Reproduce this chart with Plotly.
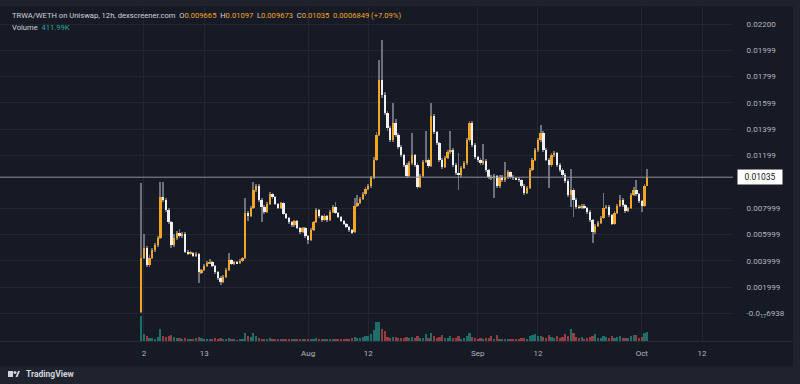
import plotly.graph_objects as go
import pandas as pd

# ---------------- data ----------------
start_time = "2024-07-01 12:00"
interval = "12h"

opens = [0.0001,0.00420,0.00497,0.00367,0.00420,0.00481,0.00519,0.00573,0.00884,0.00862,
0.00786,0.00694,0.00519,0.00573,0.00611,0.00588,0.00603,0.00466,0.00451,0.00459,
0.00436,0.00451,0.00314,0.00329,0.00360,0.00382,0.00390,0.00360,0.00314,0.00268,
0.00238,0.00276,0.00329,0.00405,0.00375,0.00390,0.00382,0.00398,0.00420,0.00763,
0.00740,0.00801,0.00938,0.00968,0.00862,0.00808,0.00770,0.00831,0.00907,0.00884,
0.00831,0.00801,0.00839,0.00755,0.00725,0.00694,0.00671,0.00702,0.00649,0.00618,
0.00649,0.00588,0.00557,0.00633,0.00694,0.00786,0.00740,0.00709,0.00740,0.00709,
0.00770,0.00808,0.00763,0.00732,0.00702,0.00679,0.00656,0.00633,0.00618,0.00816,
0.00839,0.00869,0.00907,0.00945,0.00968,0.01029,0.01166,0.01356,0.01774,0.01660,
0.01523,0.01409,0.01318,0.01447,0.01356,0.01265,0.01204,0.01128,0.01044,0.01143,
0.01204,0.01128,0.00960,0.01044,0.01151,0.01166,0.01120,0.01500,0.01379,0.01295,
0.01166,0.01113,0.01181,0.01227,0.01242,0.01128,0.01067,0.01052,0.01105,0.01143,
0.01318,0.01447,0.01280,0.01189,0.01166,0.01143,0.01158,0.01090,0.01036,0.01029,
0.01044,0.00968,0.01036,0.01014,0.01036,0.01074,0.01036,0.01029,0.01021,0.01014,
0.00968,0.00915,0.00953,0.01090,0.01166,0.01242,0.01318,0.01371,0.01242,0.01166,
0.01128,0.01204,0.01219,0.01128,0.01090,0.01052,0.01006,0.00900,0.00938,0.00862,
0.00808,0.00801,0.00816,0.00801,0.00770,0.00709,0.00618,0.00664,0.00687,0.00725,
0.00801,0.00808,0.00747,0.00679,0.00763,0.00816,0.00862,0.00824,0.00778,0.00801,
0.00900,0.00938,0.00907,0.00854,0.00816,0.009665]

closes = [0.00420,0.00497,0.00367,0.00420,0.00481,0.00519,0.00573,0.00884,0.00862,0.00786,
0.00694,0.00519,0.00573,0.00611,0.00588,0.00603,0.00466,0.00451,0.00459,0.00436,
0.00451,0.00314,0.00329,0.00360,0.00382,0.00390,0.00360,0.00314,0.00268,0.00238,
0.00276,0.00329,0.00405,0.00375,0.00390,0.00382,0.00398,0.00420,0.00763,0.00740,
0.00801,0.00938,0.00968,0.00862,0.00808,0.00770,0.00831,0.00907,0.00884,0.00831,
0.00801,0.00839,0.00755,0.00725,0.00694,0.00671,0.00702,0.00649,0.00618,0.00649,
0.00588,0.00557,0.00633,0.00694,0.00786,0.00740,0.00709,0.00740,0.00709,0.00770,
0.00808,0.00763,0.00732,0.00702,0.00679,0.00656,0.00633,0.00618,0.00816,0.00839,
0.00869,0.00907,0.00945,0.00968,0.01029,0.01166,0.01356,0.01774,0.01660,0.01523,
0.01409,0.01318,0.01447,0.01356,0.01265,0.01204,0.01128,0.01044,0.01143,0.01204,
0.01128,0.00960,0.01044,0.01151,0.01166,0.01120,0.01500,0.01379,0.01295,0.01166,
0.01113,0.01181,0.01227,0.01242,0.01128,0.01067,0.01052,0.01105,0.01143,0.01318,
0.01447,0.01280,0.01189,0.01166,0.01143,0.01158,0.01090,0.01036,0.01029,0.01044,
0.00968,0.01036,0.01014,0.01036,0.01074,0.01036,0.01029,0.01021,0.01014,0.00968,
0.00915,0.00953,0.01090,0.01166,0.01242,0.01318,0.01371,0.01242,0.01166,0.01128,
0.01204,0.01219,0.01128,0.01090,0.01052,0.01006,0.00900,0.00938,0.00862,0.00808,
0.00801,0.00816,0.00801,0.00770,0.00709,0.00618,0.00664,0.00687,0.00725,0.00801,
0.00808,0.00747,0.00679,0.00763,0.00816,0.00862,0.00824,0.00778,0.00801,0.00900,
0.00938,0.00907,0.00854,0.00816,0.009665,0.01035]

highs = [0.0099,0.0060,0.00510,0.00440,0.00495,0.00535,0.00590,0.0100,0.0100,0.00875,
0.00800,0.00705,0.00600,0.00625,0.00640,0.00620,0.00615,0.00480,0.00475,0.00470,
0.00465,0.00460,0.00340,0.00372,0.00395,0.00410,0.00400,0.00370,0.00325,0.00280,
0.00290,0.00345,0.00460,0.00415,0.00400,0.00400,0.00410,0.00432,0.00880,0.00780,
0.00815,0.0100,0.00985,0.00980,0.00875,0.00820,0.00845,0.00920,0.00915,0.00895,
0.00840,0.00850,0.00848,0.00765,0.00735,0.00705,0.00712,0.00710,0.00658,0.00660,
0.00658,0.00598,0.00645,0.00705,0.00800,0.00795,0.00750,0.00752,0.00750,0.00785,
0.00822,0.00850,0.00772,0.00742,0.00712,0.00688,0.00665,0.00642,0.00880,0.00900,
0.00885,0.00925,0.00960,0.00985,0.01045,0.01185,0.01380,0.01930,0.02080,0.01680,
0.01540,0.01425,0.01600,0.01480,0.01370,0.01280,0.01215,0.01140,0.01160,0.01370,
0.01215,0.01140,0.01060,0.01165,0.01390,0.01180,0.01600,0.01515,0.01390,0.01305,
0.01180,0.01195,0.01240,0.01390,0.01255,0.01140,0.01220,0.01120,0.01160,0.01335,
0.01460,0.01460,0.01295,0.01200,0.01180,0.01290,0.01170,0.01100,0.01050,0.01060,
0.01055,0.01050,0.01050,0.01150,0.01090,0.01085,0.01048,0.01040,0.01035,0.01025,
0.00980,0.00965,0.01105,0.01180,0.01260,0.01335,0.01430,0.01385,0.01255,0.01180,
0.01220,0.01235,0.01230,0.01140,0.01105,0.01065,0.01020,0.01100,0.00950,0.00875,
0.00820,0.00830,0.00828,0.00812,0.00782,0.00720,0.00676,0.00700,0.00738,0.00915,
0.00822,0.00820,0.00758,0.00775,0.00830,0.00900,0.00875,0.00835,0.00812,0.00915,
0.00960,0.01010,0.00918,0.00865,0.00985,0.01097]

lows = [0.0000,0.00410,0.00355,0.00350,0.00410,0.00470,0.00505,0.00565,0.00845,0.00770,
0.00680,0.00500,0.00505,0.00560,0.00575,0.00575,0.00455,0.00440,0.00440,0.00425,
0.00425,0.00230,0.00300,0.00320,0.00350,0.00375,0.00350,0.00300,0.00255,0.00215,
0.00228,0.00265,0.00320,0.00365,0.00365,0.00372,0.00372,0.00388,0.00410,0.00700,
0.00730,0.00790,0.00925,0.00850,0.00695,0.00755,0.00760,0.00820,0.00870,0.00820,
0.00790,0.00790,0.00745,0.00715,0.00680,0.00660,0.00660,0.00638,0.00605,0.00608,
0.00575,0.00527,0.00548,0.00625,0.00685,0.00728,0.00698,0.00700,0.00698,0.00700,
0.00760,0.00752,0.00722,0.00692,0.00668,0.00645,0.00622,0.00605,0.00610,0.00805,
0.00830,0.00860,0.00895,0.00935,0.00955,0.01020,0.01155,0.01345,0.01640,0.01505,
0.01390,0.01300,0.01305,0.01340,0.01250,0.01190,0.01115,0.01030,0.01035,0.01130,
0.01115,0.00945,0.00950,0.01035,0.01140,0.01105,0.01110,0.01365,0.01280,0.01150,
0.01100,0.01105,0.01170,0.01215,0.01115,0.01055,0.00940,0.01040,0.01095,0.01130,
0.01305,0.01265,0.01175,0.01150,0.01130,0.01130,0.01075,0.01020,0.01015,0.00880,
0.00955,0.00955,0.01000,0.01000,0.01025,0.01020,0.01015,0.01010,0.01000,0.00955,
0.00900,0.00905,0.00945,0.01080,0.01155,0.01230,0.01305,0.01230,0.01155,0.00950,
0.01115,0.01190,0.01115,0.01075,0.01040,0.00990,0.00885,0.00810,0.00730,0.00795,
0.00790,0.00790,0.00790,0.00758,0.00695,0.00535,0.00605,0.00655,0.00678,0.00715,
0.00790,0.00735,0.00668,0.00670,0.00752,0.00805,0.00812,0.00765,0.00768,0.00790,
0.00890,0.00895,0.00842,0.00770,0.00805,0.009673]

volumes_k = [1080,310,220,130,130,110,175,530,220,175,
220,265,175,130,130,110,130,110,90,110,
130,175,130,90,110,90,90,130,110,130,
90,110,130,90,90,65,90,90,350,220,
175,350,220,130,110,110,90,130,90,90,
90,80,100,90,80,70,90,80,100,70,
90,110,90,100,130,90,80,70,90,100,
90,110,90,80,100,90,110,130,175,130,
130,175,220,220,310,480,840,850,530,440,
175,130,175,175,130,150,130,175,130,175,
150,200,130,150,310,150,350,220,150,175,
265,130,150,220,130,150,220,110,130,220,
350,175,130,110,130,110,130,150,220,110,
265,110,90,110,90,110,90,80,90,130,
150,110,220,265,310,220,220,175,130,265,
175,130,220,150,175,310,200,530,350,175,
130,175,110,130,175,220,310,130,150,220,
175,130,220,150,175,200,130,150,130,220,
265,265,150,175,350,412]

price_tick_vals = [0.022, 0.020, 0.018, 0.016, 0.014, 0.012, 0.008, 0.006, 0.004, 0.002, 0.0]
price_tick_text = ["0.02200", "0.01999", "0.01799", "0.01599", "0.01399", "0.01199",
                   "0.007999", "0.005999", "0.003999", "0.001999", "-0.0<sub>17</sub>6938"]
time_tick_vals = ["2024-07-02", "2024-07-13", "2024-08-01", "2024-08-12",
                  "2024-09-01", "2024-09-12", "2024-10-01", "2024-10-12"]
time_tick_text = ["2", "13", "Aug", "12", "Sep", "12", "Oct", "12"]

header_pair = "TRWA/WETH on Uniswap, 12h, dexscreener.com"
ohlc_labels = ["O", "H", "L", "C"]
ohlc_values = ["0.009665", "0.01097", "0.009673", "0.01035"]
last_change = "0.0006849 (+7.09%)"
volume_label = "411.99K"

# ---------------- styling ----------------
W, H = 800, 384
ORANGE = "#f5a524"
WHITE = "#f0f0f0"
WICK = "#6e717d"
PANE = "#161a25"
OUTER = "#1f232e"
GRID = "#222631"
TXT = "#b2b5be"
FONT = "Roboto"

times = pd.date_range(start_time, periods=len(closes), freq=interval)
half_day_ms = 12 * 3600 * 1000

body_base = [min(o, c) for o, c in zip(opens, closes)]
body_h = [max(abs(c - o), 0.00006) for o, c in zip(opens, closes)]
body_col = [ORANGE if c >= o else WHITE for o, c in zip(opens, closes)]
wick_h = [h - l for h, l in zip(highs, lows)]
vol = [v * 1000 for v in volumes_k]
vol_col = ["rgba(38,166,154,0.6)" if c >= o else "rgba(239,83,80,0.6)" for o, c in zip(opens, closes)]

x_left = pd.Timestamp("2024-06-05 16:20")
x_right = pd.Timestamp("2024-10-17 16:00")


def px_x(p):
    return p / W


def px_y(p):
    return 1 - p / H


plot_right = 733
plot_top, plot_bot = 7, 341
y_lo, y_hi = -0.002106, 0.023293

fig = go.Figure()

fig.add_trace(go.Bar(x=times, y=vol, marker=dict(color=vol_col, line=dict(width=0)),
                     width=half_day_ms * 0.8, yaxis="y2", hoverinfo="skip"))
fig.add_trace(go.Bar(x=times, y=wick_h, base=lows, marker=dict(color=WICK, line=dict(width=0)),
                     width=half_day_ms * 0.32, hoverinfo="skip"))
fig.add_trace(go.Bar(x=times, y=body_h, base=body_base, marker=dict(color=body_col, line=dict(width=0)),
                     width=half_day_ms * 0.85, hoverinfo="skip"))

last_close = closes[-1]

shapes = [
    dict(type="rect", xref="paper", yref="paper", x0=0, x1=px_x(793), y0=px_y(366), y1=px_y(6),
         fillcolor=PANE, line=dict(width=0), layer="below"),
    dict(type="line", xref="paper", yref="paper", x0=0, x1=px_x(793), y0=px_y(341.5), y1=px_y(341.5),
         line=dict(color="#262a35", width=1), layer="below"),
    dict(type="line", xref="paper", yref="y", x0=0, x1=px_x(plot_right), y0=last_close, y1=last_close,
         line=dict(color="#8c9099", width=1)),
]

ohlc_html = "".join("  %s<span style='color:%s'>%s</span>" % (lab, ORANGE, val)
                    for lab, val in zip(ohlc_labels, ohlc_values))

annotations = [
    dict(xref="paper", yref="paper", x=px_x(10), y=px_y(15), xanchor="left", yanchor="middle",
         showarrow=False, font=dict(family=FONT, size=7.6, color="#d1d4dc"),
         text=header_pair + ohlc_html + "  <span style='color:%s'>%s</span>" % (ORANGE, last_change)),
    dict(xref="paper", yref="paper", x=px_x(10), y=px_y(28), xanchor="left", yanchor="middle",
         showarrow=False, font=dict(family=FONT, size=7.6, color="#d1d4dc"),
         text="Volume  <span style='color:#26a69a'>%s</span>" % volume_label),
    dict(xref="paper", yref="y", x=px_x(737), y=last_close, xanchor="left", yanchor="middle",
         showarrow=False, font=dict(family=FONT, size=8.5, color="#131722"),
         text="%.5f" % last_close, bgcolor="#ffffff", borderpad=2, width=40),
    dict(xref="paper", yref="paper", x=px_x(24), y=px_y(374), xanchor="left", yanchor="middle",
         showarrow=False, font=dict(family=FONT, size=8.5, color="#d1d4dc"),
         text="<b>TradingView</b>"),
]

# small TV logo
shapes += [
    dict(type="rect", xref="paper", yref="paper", x0=px_x(8), x1=px_x(13), y0=px_y(377), y1=px_y(371),
         fillcolor="#d1d4dc", line=dict(width=0)),
    dict(type="circle", xref="paper", yref="paper", x0=px_x(13.5), x1=px_x(16.5), y0=px_y(374), y1=px_y(371),
         fillcolor="#d1d4dc", line=dict(width=0)),
    dict(type="path", xref="paper", yref="paper",
         path="M %f %f L %f %f L %f %f L %f %f Z" % (px_x(15.5), px_y(377), px_x(18), px_y(371),
                                                    px_x(20), px_y(371), px_x(17.5), px_y(377)),
         fillcolor="#d1d4dc", line=dict(width=0)),
]

fig.update_layout(
    width=W, height=H, margin=dict(l=0, r=0, t=0, b=0),
    paper_bgcolor=OUTER, plot_bgcolor=PANE,
    showlegend=False, barmode="overlay", bargap=0,
    shapes=shapes, annotations=annotations,
    xaxis=dict(domain=[0, px_x(plot_right)], type="date", range=[x_left, x_right],
               tickvals=time_tick_vals, ticktext=time_tick_text,
               showgrid=True, gridcolor=GRID, gridwidth=1, zeroline=False,
               ticks="outside", ticklen=4, tickcolor="rgba(0,0,0,0)",
               tickfont=dict(family=FONT, size=8, color=TXT), showline=False, fixedrange=True),
    yaxis=dict(domain=[px_y(plot_bot), px_y(plot_top)], range=[y_lo, y_hi], side="right",
               tickvals=price_tick_vals, ticktext=price_tick_text,
               showgrid=True, gridcolor=GRID, gridwidth=1, zeroline=False,
               ticks="outside", ticklen=11, tickcolor="rgba(0,0,0,0)",
               tickfont=dict(family=FONT, size=8, color=TXT), showline=False),
    yaxis2=dict(domain=[px_y(plot_bot), px_y(plot_top)], range=[0, 14.7e6], overlaying="y",
                showgrid=False, showticklabels=False, zeroline=False, visible=False),
)

fig.write_html("out.html", config={"displayModeBar": False},
               post_script="document.body.style.margin='0px';")
